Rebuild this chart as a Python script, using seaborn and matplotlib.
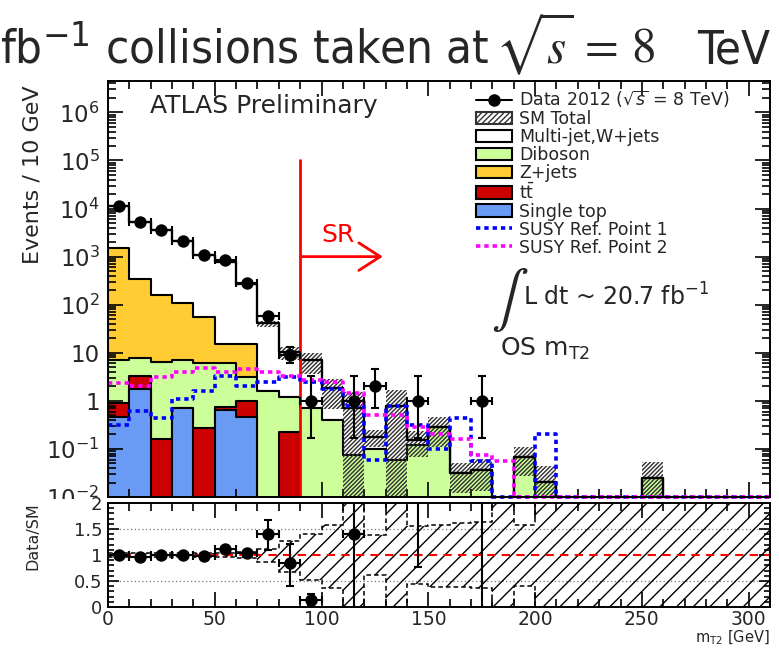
import numpy as np
import pandas as pd
import matplotlib
matplotlib.use("Agg")
import matplotlib.pyplot as plt
import matplotlib.ticker as mticker
from matplotlib import font_manager
from matplotlib.patches import Patch, Rectangle
from matplotlib.lines import Line2D
import seaborn as sns

# ---------------- binning: m_T2 in 10 GeV bins, 0-310 GeV ----------------
bin_edges = np.arange(0, 320, 10)
bin_centers = bin_edges[:-1] + 5.0
bin_list = [float(b) for b in bin_edges]

# ---------------- expected backgrounds (events / bin) ----------------
single_top = [0.47, 1.8, 0, 0.70, 0, 0.63, 0.47] + [0] * 24
ttbar = [0.43, 1.5, 0.16, 0, 0.27, 0.13, 0.53, 0, 0.22] + [0] * 22
diboson = [6.2, 4.4, 6.4, 6.4, 6.0, 5.3, 2.2, 1.6, 1.0, 0.72, 0.40, 0.075, 0.10,
           0.059, 0.12, 0.29, 0.032, 0.037, 0, 0.069, 0.021, 0, 0, 0, 0, 0.025,
           0, 0, 0, 0, 0]
z_jets = [1513, 342, 155, 101, 48, 9.1, 12] + [0] * 24
multijet_wjets = [9680, 4960, 3378, 1962, 1046, 742, 256, 39.1, 9.3, 6.3, 1.44,
                  0.64, 0.08, 0.73, 0.03] + [0] * 16

# relative SM uncertainty band (lower / upper edge, in units of the SM total)
sm_rel_lo = [0.97, 0.97, 0.97, 0.97, 0.97, 0.96, 0.95, 0.86, 0.68, 0.52, 0.36,
             -1, 0.62, -1, 0.45, 0.38, 0.38, 0.36, -1, 0.40] + [-1] * 11
sm_rel_hi = [1.03, 1.03, 1.03, 1.03, 1.03, 1.04, 1.05, 1.12, 1.27, 1.40, 1.58,
             2.1, 1.38, 2.1, 1.55, 1.58, 1.62, 1.63, 2.1, 1.58] + [2.1] * 11

# ---------------- signal reference points ----------------
susy_point1 = [0.32, 0.62, 0.44, 1.08, 1.64, 3.3, 2.0, 2.5, 3.2, 2.5, 1.8, 0.78,
               0.058, 0.79, 0.31, 0.10, 0.44, 0.055, 0, 0, 0.20] + [0] * 10
susy_point2 = [2.4, 2.05, 3.2, 3.9, 4.8, 3.9, 4.6, 3.95, 3.3, 2.7, 2.5, 1.45,
               0.51, 0.51, 0.29, 0.20, 0.16, 0.075, 0.055] + [0] * 12

# ---------------- observed data ----------------
data_events = [11200, 5150, 3540, 2090, 1080, 840, 282, 57, 9, 1, 0, 1, 2, 0, 1,
               0, 0, 1] + [0] * 13
data_err_lo = [106, 72, 59, 46, 33, 29, 17, 7.5, 2.96, 0.83, 0, 0.83, 1.29, 0,
               0.83, 0, 0, 0.83] + [0] * 13
data_err_hi = [106, 72, 59, 46, 33, 29, 17, 8.6, 4.11, 2.30, 0, 2.30, 2.64, 0,
               2.30, 0, 0, 2.30] + [0] * 13
ratio_err_lo = [0.01] * 7 + [0.30, 0.45, 0.10, 0, 1.6, 3.0, 0, 5.9, 0, 0, 28] + [0] * 13
ratio_err_hi = [0.01] * 7 + [0.28, 0.36, 0.10, 0, 1.0, 5.0, 0, 3.0, 0, 0, 10] + [0] * 13

# ---------------- style ----------------
sns.set_theme(style="ticks")
plt.rcParams["font.family"] = ["DejaVu Sans"]
plt.rcParams["mathtext.fontset"] = "dejavusans"
plt.rcParams["hatch.linewidth"] = 1.0
plt.rcParams["axes.linewidth"] = 1.4
plt.rcParams["axes.edgecolor"] = "black"

W, H = 779, 648
fig = plt.figure(figsize=(W / 100, H / 100), dpi=100)
fig.patch.set_facecolor("white")


def fx(px):
    return px / W


def fy(py):
    return 1 - py / H


ax = fig.add_axes([fx(108), fy(497), fx(770) - fx(108), fy(81) - fy(497)], zorder=0)
rax = fig.add_axes([fx(108), fy(607), fx(770) - fx(108), fy(503) - fy(607)], zorder=2)
for a in (ax, rax):
    a.set_axisbelow(False)
# lower pad background: sits over the upper pad's overhanging labels
fig.add_artist(Rectangle((0, 0), 1, fy(499), transform=fig.transFigure,
                         facecolor="white", edgecolor="none", zorder=1))

XMIN, XMAX = 0, 310
YMIN, YMAX = 1e-2, 4.5e6
ax.set_yscale("log")


def hist_frame(values):
    return pd.DataFrame({"mt2": bin_centers, "events": np.asarray(values, float)})


colors = {
    "single_top": "#6A9BF4",
    "ttbar": "#CC0000",
    "diboson": "#CCFF99",
    "z_jets": "#FFCC33",
    "multijet": "#FFFFFF",
}
components = [
    (single_top, colors["single_top"]),
    (ttbar, colors["ttbar"]),
    (diboson, colors["diboson"]),
    (z_jets, colors["z_jets"]),
    (multijet_wjets, colors["multijet"]),
]
stack = np.cumsum([np.asarray(v, float) for v, _ in components], axis=0)
sm_total = stack[-1]

# stacked backgrounds: cumulative levels drawn from the top one down
for i, ((_, color), level) in enumerate(reversed(list(zip(components, stack)))):
    sns.histplot(data=hist_frame(level), x="mt2", weights="events", bins=bin_list,
                 element="step", fill=True, color=color, alpha=1.0,
                 edgecolor="black", linewidth=1.5, zorder=1 + 0.01 * i, ax=ax)


def extend(a):
    a = np.asarray(a, float)
    return np.append(a, a[-1])


band_lo = np.clip(sm_total * np.asarray(sm_rel_lo), 1e-6, None)
band_hi = np.clip(sm_total * np.asarray(sm_rel_hi), 1e-6, None)
ax.fill_between(bin_edges, extend(band_lo), extend(band_hi), step="post",
                facecolor="none", edgecolor="#2e2e2e", hatch="////////",
                linewidth=0, zorder=3)
sns.histplot(data=hist_frame(sm_total), x="mt2", weights="events", bins=bin_list,
             element="step", fill=False, color="black", linewidth=1.6,
             zorder=3.5, ax=ax)

# signal reference points (empty bins drawn on the frame)
dot = (0, (1.2, 1.1))
for vals, color in ((susy_point1, "#0000FF"), (susy_point2, "#FF00FF")):
    v = np.asarray(vals, float)
    sns.histplot(data=hist_frame(np.where(v > 0, v, YMIN)), x="mt2",
                 weights="events", bins=bin_list, element="step", fill=False,
                 color=color, linestyle=dot, linewidth=2.6, zorder=5,
                 clip_on=False, ax=ax)

# data
d = np.asarray(data_events, float)
has = d > 0
ax.errorbar(bin_centers[has], d[has], xerr=5,
            yerr=[np.asarray(data_err_lo)[has], np.asarray(data_err_hi)[has]],
            fmt="none", ecolor="black", elinewidth=1.5, capsize=3, capthick=1.5,
            zorder=6)
sns.scatterplot(x=bin_centers[has], y=d[has], color="black", s=80, linewidth=0,
                zorder=7, legend=False, ax=ax)

# signal region marker
ax.plot([90, 90], [YMIN, 1e5], color="red", lw=2, zorder=4)
ax.annotate("", xy=(130, 1000), xytext=(89, 1000),
            arrowprops=dict(arrowstyle="->,head_length=0.7,head_width=0.45",
                            color="red", lw=2, mutation_scale=22), zorder=4)

ax.set_xlim(XMIN, XMAX)
ax.set_ylim(YMIN, YMAX)
ax.set_xlabel("")
ax.set_ylabel("")


def log_label(v, pos):
    e = int(round(np.log10(v)))
    if e == 0:
        return "1"
    if e == 1:
        return "10"
    return "$10^{%d}$" % e


decades = [10.0 ** e for e in range(-2, 7)]
ax.yaxis.set_major_locator(mticker.FixedLocator(decades))
ax.yaxis.set_minor_locator(mticker.FixedLocator(
    [m * 10.0 ** e for e in range(-2, 7) for m in range(2, 10)]))
ax.yaxis.set_major_formatter(mticker.FuncFormatter(log_label))
ax.yaxis.set_minor_formatter(mticker.NullFormatter())

# ---------------- ratio panel ----------------
rax.set_xlim(XMIN, XMAX)
rax.set_ylim(0, 2)
for yv in (0.5, 1.5):
    rax.axhline(yv, color="#777777", ls=(0, (1, 2)), lw=0.9, zorder=0.8)
rax.fill_between(bin_edges, extend(sm_rel_lo), extend(sm_rel_hi), step="post",
                 facecolor="none", edgecolor="black", hatch="//", linewidth=0,
                 zorder=2)
for edge in (sm_rel_lo, sm_rel_hi):
    rax.stairs(np.asarray(edge, float), bin_edges, baseline=None, color="black",
               ls=(0, (3, 2)), lw=1.1, zorder=2.2)
rax.axhline(1, color="red", ls=(0, (4, 3)), lw=1.5, zorder=4)

ok = has & (sm_total > 0)
ratio = d[ok] / sm_total[ok]
rax.errorbar(bin_centers[ok], ratio, xerr=5,
             yerr=[np.asarray(ratio_err_lo)[ok], np.asarray(ratio_err_hi)[ok]],
             fmt="none", ecolor="black", elinewidth=1.5, capsize=3, capthick=1.5,
             zorder=6)
sns.scatterplot(x=bin_centers[ok], y=ratio, color="black", s=80, linewidth=0,
                zorder=7, legend=False, ax=rax)
rax.set_xlabel("")
rax.set_ylabel("")
rax.yaxis.set_major_locator(mticker.FixedLocator([0, 0.5, 1, 1.5, 2]))
rax.yaxis.set_minor_locator(mticker.MultipleLocator(0.1))
rax.yaxis.set_major_formatter(mticker.FuncFormatter(lambda v, p: f"{v:g}"))

for a in (ax, rax):
    a.xaxis.set_major_locator(mticker.FixedLocator(list(range(0, 301, 50))))
    a.xaxis.set_minor_locator(mticker.FixedLocator(list(range(0, 311, 10))))
    a.tick_params(which="both", direction="in", top=True, right=True,
                  width=1.2, color="black")
    a.tick_params(which="major", length=11)
    a.tick_params(which="minor", length=6)
    for s in a.spines.values():
        s.set_visible(True)
        s.set_linewidth(1.4)
        s.set_zorder(8)
rax.tick_params(axis="y", which="major", length=8)
rax.tick_params(axis="y", which="minor", length=4)
ax.xaxis.set_major_formatter(mticker.NullFormatter())
ax.tick_params(labelbottom=False)
ax.tick_params(axis="y", labelsize=16.5, pad=6)
rax.tick_params(axis="y", labelsize=13, pad=4)
rax.tick_params(axis="x", labelsize=13.5, pad=2)

# ---------------- legend ----------------
handles = [
    Line2D([], [], color="black", marker="o", markersize=8, lw=1.5),
    Patch(facecolor="white", edgecolor="#333333", hatch="//////", lw=1.5),
    Patch(facecolor=colors["multijet"], edgecolor="black", lw=1.5),
    Patch(facecolor=colors["diboson"], edgecolor="black", lw=1.5),
    Patch(facecolor=colors["z_jets"], edgecolor="black", lw=1.5),
    Patch(facecolor=colors["ttbar"], edgecolor="black", lw=1.5),
    Patch(facecolor=colors["single_top"], edgecolor="black", lw=1.5),
    Line2D([], [], color="#0000FF", ls=dot, lw=2.6),
    Line2D([], [], color="#FF00FF", ls=dot, lw=2.6),
]
labels = [
    "Data 2012 ($\\sqrt{s}$ = 8 TeV)",
    "SM Total",
    "Multi-jet,W+jets",
    "Diboson",
    "Z+jets",
    "$\\mathrm{t\\bar{t}}$",
    "Single top",
    "SUSY Ref. Point 1",
    "SUSY Ref. Point 2",
]
ax.legend(handles, labels, loc="upper left", bbox_to_anchor=(fx(476), fy(89)),
          bbox_transform=fig.transFigure, frameon=False, fontsize=12.5,
          labelspacing=0.0, handlelength=2.1, handleheight=0.72,
          handletextpad=0.4, borderpad=0, borderaxespad=0)

# ---------------- annotations ----------------
fig.text(fx(150), fy(113), "ATLAS Preliminary", fontsize=18, va="baseline", ha="left")
fig.text(fx(321), fy(242), "SR", fontsize=18, color="red", va="baseline", ha="left")
fig.text(fx(510), fy(300), "$\\int$", fontsize=40, math_fontfamily="stix",
         ha="center", va="center")
fig.text(fx(523), fy(306), "L dt ~ 20.7 fb$^{\\mathregular{-1}}$", fontsize=17,
         va="baseline", ha="left")
fig.text(fx(500), fy(356), "OS m$_{\\mathregular{T2}}$", fontsize=18,
         va="baseline", ha="left")
fig.text(fx(33), fy(85), "Events / 10 GeV", rotation=90, fontsize=16,
         ha="center", va="top")
fig.text(fx(33), fy(536), "Data/SM", rotation=90, fontsize=11.5,
         ha="center", va="center")
fig.text(fx(770), fy(647), "m$_{\\mathregular{T2}}$ [GeV]", fontsize=10.5,
         ha="right", va="bottom")

# ---------------- header line ----------------
fonts = font_manager.fontManager.ttflist
names = {f.name for f in fonts}
header_kw = {"family": "Liberation Sans"}
if "Liberation Sans Narrow" in names:
    header_kw = {"family": "Liberation Sans Narrow"}
elif any(f.name == "DejaVu Sans" and "condensed" in str(f.stretch) for f in fonts):
    header_kw = {"family": "DejaVu Sans", "fontstretch": "condensed"}

renderer = fig.canvas.get_renderer()
base = fy(63)
lead = fig.text(0, base, "fb$^{-1}$ collisions taken at", fontsize=36,
                va="baseline", ha="left", **header_kw)
root = fig.text(fx(495), base, "$\\sqrt{s}\\,=\\,8$", fontsize=36,
                math_fontfamily="stix", va="baseline", ha="left")
unit = fig.text(fx(770), base, "TeV", fontsize=36, va="baseline", ha="right",
                **header_kw)


def fit_width(t, target_px, max_size):
    size = t.get_fontsize()
    w = t.get_window_extent(renderer).width
    t.set_fontsize(min(size * target_px / w, max_size))


fit_width(lead, 490, 43)
fit_width(root, 160, 42)
unit.set_fontsize(lead.get_fontsize())

fig.savefig("out.png", dpi=100)
